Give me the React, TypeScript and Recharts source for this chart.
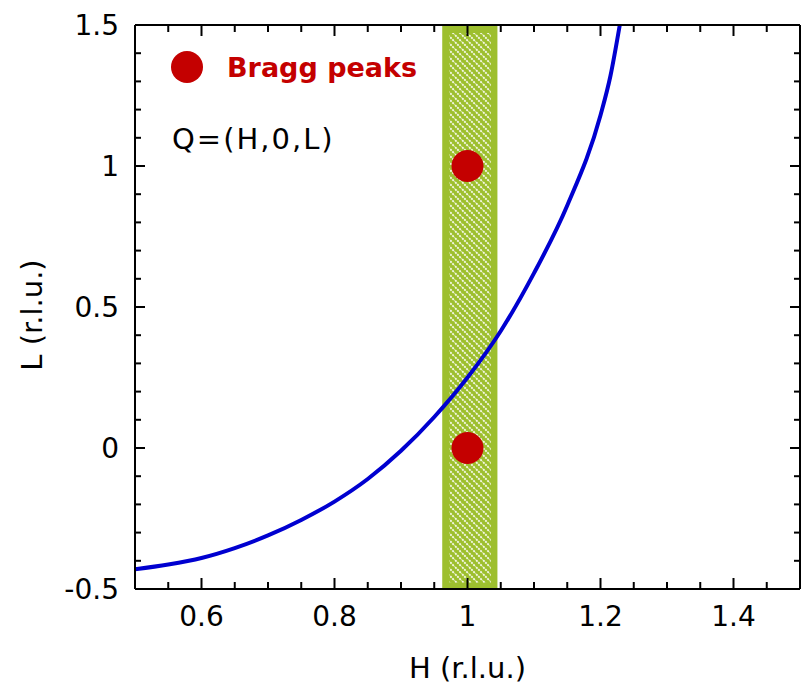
import React from "react";
import {
  ComposedChart,
  Line,
  Scatter,
  XAxis,
  YAxis,
  ReferenceArea,
  Legend,
  Label,
} from "recharts";

// scan trajectory through reciprocal space: H vs L (r.l.u.)
const hValues = [0.5, 0.55, 0.6, 0.65, 0.7, 0.75, 0.8, 0.85, 0.9, 0.95, 1.0, 1.05, 1.1, 1.15, 1.2, 1.215, 1.229];
const lValues = [-0.43, -0.413, -0.39, -0.355, -0.31, -0.255, -0.19, -0.11, -0.01, 0.11, 0.25, 0.415, 0.62, 0.86, 1.18, 1.32, 1.5];

// Bragg peak positions
const peakName = "Bragg peaks";
const braggH = [1, 1];
const braggL = [0, 1];

// shaded H window around H = 1
const bandH = [0.962, 1.045];

const hTicks = [0.5, 0.55, 0.6, 0.65, 0.7, 0.75, 0.8, 0.85, 0.9, 0.95, 1, 1.05, 1.1, 1.15, 1.2, 1.25, 1.3, 1.35, 1.4, 1.45, 1.5];
const hLabels = [0.6, 0.8, 1, 1.2, 1.4];
const lTicks = [-0.5, -0.4, -0.3, -0.2, -0.1, 0, 0.1, 0.2, 0.3, 0.4, 0.5, 0.6, 0.7, 0.8, 0.9, 1, 1.1, 1.2, 1.3, 1.4, 1.5];
const lLabels = [-0.5, 0, 0.5, 1, 1.5];

const curveData = hValues.map((h, i) => ({ h, l: lValues[i] }));
const peakData = braggH.map((h, i) => ({ h, l: braggL[i] }));

const FONT = "'DejaVu Sans', Verdana, sans-serif";
const RED = "#C40000";
const BLUE = "#0000D0";
const GREEN = "#9DBF2E";

const isMajor = (v: number, list: number[]) => list.some((m) => Math.abs(m - v) < 1e-9);

const BottomTick = ({ x, y, payload }: any) => {
  const major = isMajor(payload.value, hLabels);
  return (
    <g>
      <line x1={x} x2={x} y1={y} y2={y - (major ? 11 : 7)} stroke="#000" strokeWidth={2} />
      {major && (
        <text x={x} y={y + 37} textAnchor="middle" fontSize={28} fontFamily={FONT} fill="#000">
          {payload.value}
        </text>
      )}
    </g>
  );
};

const TopTick = ({ x, y, payload }: any) => {
  const major = isMajor(payload.value, hLabels);
  return <line x1={x} x2={x} y1={y} y2={y + (major ? 11 : 7)} stroke="#000" strokeWidth={2} />;
};

const LeftTick = ({ x, y, payload }: any) => {
  const major = isMajor(payload.value, lLabels);
  return (
    <g>
      <line x1={x} x2={x + (major ? 10 : 6)} y1={y} y2={y} stroke="#000" strokeWidth={2} />
      {major && (
        <text x={x - 16} y={y + 10} textAnchor="end" fontSize={28} fontFamily={FONT} fill="#000">
          {payload.value}
        </text>
      )}
    </g>
  );
};

const RightTick = ({ x, y, payload }: any) => {
  const major = isMajor(payload.value, lLabels);
  return <line x1={x} x2={x - (major ? 10 : 6)} y1={y} y2={y} stroke="#000" strokeWidth={2} />;
};

const renderLegend = ({ payload }: any) => {
  const entry = (payload || []).find((p: any) => p.type !== "none");
  const name = entry?.value ?? peakName;
  return (
    <svg width={300} height={130}>
      <circle cx={37} cy={27} r={16} fill={RED} />
      <text x={77} y={37} fill={RED} fontWeight="bold" fontSize={27} fontFamily={FONT}>
        {name}
      </text>
      <text x={22} y={109} fill="#000" fontSize={29} letterSpacing={2} fontFamily={FONT}>
        Q=(H,0,L)
      </text>
    </svg>
  );
};

const axisLine = { stroke: "#000", strokeWidth: 2 };

export default function App() {
  return (
    <div style={{ position: "absolute", left: 0, top: 0, background: "#fff" }}>
      <ComposedChart width={809} height={687} margin={{ top: 0, right: 0, bottom: 0, left: 0 }}>
        <defs>
          <pattern id="bandHatch" patternUnits="userSpaceOnUse" width={7} height={7}>
            <rect width={7} height={7} fill={GREEN} />
            <path
              d="M-2,-2 L9,9 M-2,5 L2,9 M5,-2 L9,2"
              stroke="#fff"
              strokeWidth={1.8}
              strokeDasharray="2 1"
              opacity={0.9}
            />
          </pattern>
        </defs>
        <XAxis
          xAxisId="b"
          dataKey="h"
          type="number"
          orientation="bottom"
          domain={[0.5, 1.5]}
          ticks={hTicks}
          interval={0}
          allowDataOverflow
          height={98}
          tickSize={0}
          tickMargin={0}
          tickLine={false}
          axisLine={axisLine}
          tick={<BottomTick />}
        >
          <Label
            content={({ viewBox }: any) => (
              <text
                x={viewBox.x + viewBox.width / 2}
                y={viewBox.y + 89}
                textAnchor="middle"
                fontSize={29}
                fontFamily={FONT}
                fill="#000"
              >
                H (r.l.u.)
              </text>
            )}
          />
        </XAxis>
        <XAxis
          xAxisId="t"
          dataKey="h"
          type="number"
          orientation="top"
          domain={[0.5, 1.5]}
          ticks={hTicks}
          interval={0}
          allowDataOverflow
          height={25}
          tickSize={0}
          tickMargin={0}
          tickLine={false}
          axisLine={axisLine}
          tick={<TopTick />}
        />
        <YAxis
          yAxisId="l"
          type="number"
          orientation="left"
          domain={[-0.5, 1.5]}
          ticks={lTicks}
          interval={0}
          allowDataOverflow
          width={135}
          tickSize={0}
          tickMargin={0}
          tickLine={false}
          axisLine={axisLine}
          tick={<LeftTick />}
        >
          <Label
            content={({ viewBox }: any) => (
              <text
                transform={`translate(${viewBox.x + 42}, ${viewBox.y + viewBox.height / 2 + 8}) rotate(-90)`}
                textAnchor="middle"
                fontSize={29}
                fontFamily={FONT}
                fill="#000"
              >
                L (r.l.u.)
              </text>
            )}
          />
        </YAxis>
        <YAxis
          yAxisId="r"
          type="number"
          orientation="right"
          domain={[-0.5, 1.5]}
          ticks={lTicks}
          interval={0}
          allowDataOverflow
          width={9}
          tickSize={0}
          tickMargin={0}
          tickLine={false}
          axisLine={axisLine}
          tick={<RightTick />}
        />
        <ReferenceArea
          xAxisId="b"
          yAxisId="l"
          x1={bandH[0]}
          x2={bandH[1]}
          y1={-0.5}
          y2={1.5}
          fill={GREEN}
          fillOpacity={1}
          stroke="none"
        />
        <ReferenceArea
          xAxisId="b"
          yAxisId="l"
          x1={bandH[0] + 0.011}
          x2={bandH[1] - 0.01}
          y1={-0.478}
          y2={1.472}
          fill="url(#bandHatch)"
          fillOpacity={1}
          stroke="none"
        />
        <Line
          xAxisId="b"
          yAxisId="l"
          data={curveData}
          dataKey="l"
          type="monotone"
          stroke={BLUE}
          strokeWidth={4}
          dot={false}
          legendType="none"
          isAnimationActive={false}
        />
        <Scatter
          xAxisId="b"
          yAxisId="l"
          name={peakName}
          data={peakData}
          dataKey="l"
          fill={RED}
          shape={(p: any) => <circle cx={p.cx} cy={p.cy} r={16} fill={RED} />}
          isAnimationActive={false}
        />
        <Legend
          layout="vertical"
          align="center"
          verticalAlign="middle"
          content={renderLegend}
          wrapperStyle={{ left: 150, top: 40, width: 300, height: 130 }}
        />
      </ComposedChart>
    </div>
  );
}
